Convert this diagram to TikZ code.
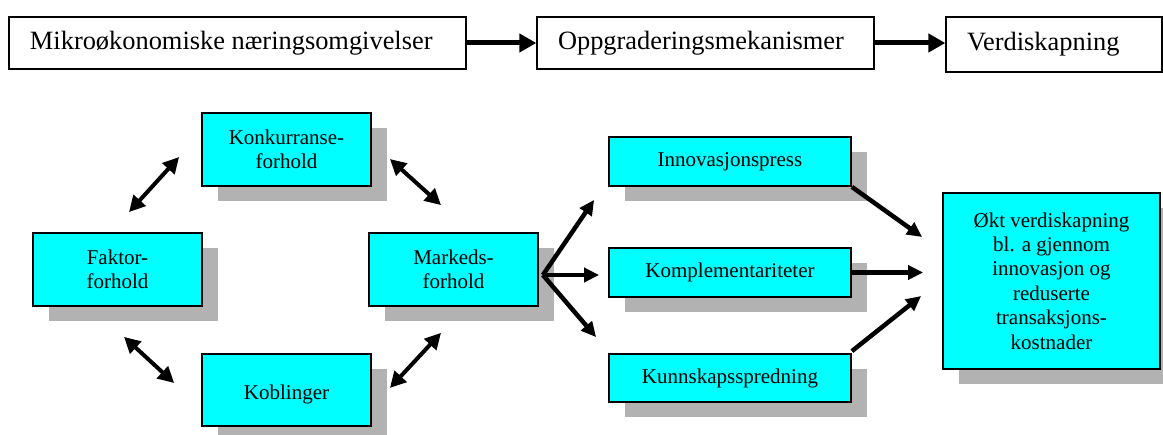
\documentclass[tikz,border=0pt]{standalone}
\usepackage{fontspec}
\setmainfont{Liberation Serif}
\usetikzlibrary{arrows.meta,shadows}
\definecolor{boxcyan}{RGB}{0,255,255}

\begin{document}
\begin{tikzpicture}[x=1pt,y=1pt,
  topbox/.style={draw,line width=1.3pt,inner xsep=21pt,inner ysep=0pt,minimum height=52pt,align=flush left,font=\fontsize{26.4}{30}\selectfont},
  cbox/.style={draw,fill=boxcyan,line width=1.8pt,inner sep=0pt,align=center,font=\fontsize{21}{24.4}\selectfont,general shadow={fill=black!30,shadow xshift=16pt,shadow yshift=-15pt}},
  bigarr/.style={-{Triangle[length=17pt,width=18pt]},line width=5pt},
  arr/.style={-{Triangle[length=15pt,width=14pt]},line width=4.5pt},
  dbl/.style={{Triangle[length=16pt,width=16pt]}-{Triangle[length=16pt,width=16pt]},line width=4pt}]
\clip (0,0) rectangle (1163,-435);
\node[topbox,text width=415pt] (mikro) at (237.5,-43) {Mikroøkonomiske næringsomgivelser};
\node[topbox,text width=295pt] (oppgr) at (705.5,-43) {Oppgraderingsmekanismer};
\node[topbox,text width=174pt,minimum height=55pt] (verdi) at (1054,-44.5) {Verdiskapning};
\draw[bigarr] (mikro.east) -- (oppgr.west);
\draw[bigarr] (oppgr.east) -- (oppgr.east -| verdi.west);
\node[cbox,minimum width=169pt,minimum height=73pt] (konk) at (286.5,-149.5) {Konkurranse-\\forhold};
\node[cbox,minimum width=169pt,minimum height=73pt] (faktor) at (117.5,-269.5) {Faktor-\\forhold};
\node[cbox,minimum width=169pt,minimum height=73pt] (markeds) at (453.5,-269.5) {Markeds-\\forhold};
\node[cbox,minimum width=169pt,minimum height=72pt] (kobl) at (286.5,-390) {\mbox{}\\Koblinger};
\node[cbox,minimum width=242pt,minimum height=49pt] (innov) at (730,-161.5) {Innovasjonspress};
\node[cbox,minimum width=242pt,minimum height=49pt] (kompl) at (730,-272.5) {Komplementariteter};
\node[cbox,minimum width=242pt,minimum height=48pt] (kunn) at (730,-378) {Kunnskapsspredning};
\node[cbox,minimum width=217pt,minimum height=176pt] (okt) at (1051.5,-281) {Økt verdiskapning\\bl. a gjennom\\innovasjon og\\reduserte\\transaksjons-\\kostnader};
\draw[dbl] ([shift={(11.5,20)}]faktor.north) -- ([shift={(-22,-7.5)}]konk.west);
\draw[dbl] ([shift={(18,-9.5)}]konk.east) -- ([shift={(-12.5,27)}]markeds.north);
\draw[dbl] ([shift={(6.5,-30)}]faktor.south) -- ([shift={(-27,7)}]kobl.west);
\draw[dbl] ([shift={(18,2)}]kobl.east) -- ([shift={(-12.5,-26)}]markeds.south);
\coordinate (fan) at ([shift={(4,-5.5)}]markeds.east);
\draw[arr] (fan) -- ([shift={(-14,-13)}]innov.south west);
\draw[arr,shorten >=9pt] (fan) -- (fan -| kompl.west);
\draw[arr] (fan) -- ([shift={(-12,16)}]kunn.north west);
\draw[arr] (innov.south east) -- ([shift={(-20,44)}]okt.west);
\draw[arr,shorten >=19pt] (kompl.east) -- (kompl.east -| okt.west);
\draw[arr] ([yshift=2pt]kunn.north east) -- ([shift={(-21,-15)}]okt.west);
\end{tikzpicture}
\end{document}
